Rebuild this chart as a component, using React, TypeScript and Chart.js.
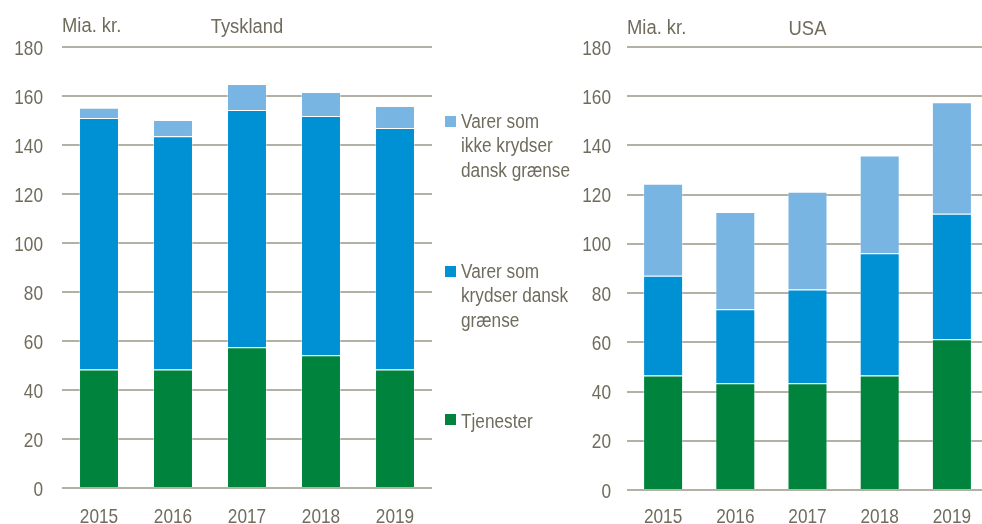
import React, { useEffect, useRef } from "react";
import { Chart, registerables } from "chart.js";

Chart.register(...registerables);

const years = ["2015", "2016", "2017", "2018", "2019"];
const yTicks = [0, 20, 40, 60, 80, 100, 120, 140, 160, 180];

const deTjenester = [48.4, 48.4, 57.4, 54.2, 48.4];
const deKrydser = [102.6, 95.2, 96.9, 97.6, 98.5];
const deIkkeKrydser = [4.2, 6.6, 10.6, 9.8, 9.0];

const usTjenester = [46.5, 43.4, 43.4, 46.5, 61.3];
const usKrydser = [40.6, 30.0, 38.1, 49.7, 50.9];
const usIkkeKrydser = [37.3, 39.6, 39.7, 39.7, 45.4];

const legendLabels = [
  "Varer som ikke krydser dansk grænse",
  "Varer som krydser dansk grænse",
  "Tjenester",
];

const GREEN = "#00843d";
const BLUE = "#0091d5";
const LIGHT = "#78b5e3";
const TEXT = "#6f6c5d";
const GRID = "#b3b0a4";
const FONT = "'Liberation Sans', Arial, sans-serif";
const SX = 0.82;
const SX_TITLE = 0.92;

type PanelProps = {
  title: string;
  tj: number[];
  kr: number[];
  ik: number[];
  left: number;
  width: number;
  axisWidth: number;
  bottom: number;
  bar: number;
  gap: number;
  titleY: number;
};

function drawScaled(ctx: CanvasRenderingContext2D, text: string, x: number, y: number, align: CanvasTextAlign, sx: number) {
  ctx.save();
  ctx.translate(x, y);
  ctx.scale(sx, 1);
  ctx.textAlign = align;
  ctx.textBaseline = "alphabetic";
  ctx.fillText(text, 0, 0);
  ctx.restore();
}

function Panel(p: PanelProps) {
  const ref = useRef<HTMLCanvasElement | null>(null);
  useEffect(() => {
    if (!ref.current) return;
    const textPlugin = {
      id: "txt",
      afterDraw(chart: any) {
        const { ctx, chartArea } = chart;
        const xs = chart.scales.x;
        const ys = chart.scales.y;
        ctx.save();
        ctx.fillStyle = TEXT;
        ctx.font = `21px ${FONT}`;
        ys.ticks.forEach((t: any) => {
          drawScaled(ctx, String(t.value), chartArea.left - p.gap, ys.getPixelForValue(t.value) + 7.5, "right", SX);
        });
        xs.ticks.forEach((t: any, i: number) => {
          drawScaled(ctx, String(xs.getLabelForValue(t.value)), xs.getPixelForTick(i), 523, "center", SX);
        });
        ctx.font = `20px ${FONT}`;
        drawScaled(ctx, "Mia. kr.", chartArea.left, p.titleY, "left", SX_TITLE);
        drawScaled(ctx, p.title, (chartArea.left + chartArea.right) / 2, p.titleY + 1, "center", SX_TITLE);
        ctx.restore();
      },
    };
    const border = "rgba(255,255,255,0.35)";
    const chart = new Chart(ref.current, {
      type: "bar",
      data: {
        labels: years,
        datasets: [
          { label: legendLabels[2], data: p.tj, backgroundColor: GREEN, borderColor: border, borderWidth: 1 },
          { label: legendLabels[1], data: p.kr, backgroundColor: BLUE, borderColor: border, borderWidth: 1 },
          { label: legendLabels[0], data: p.ik, backgroundColor: LIGHT, borderColor: border, borderWidth: 1 },
        ],
      },
      options: {
        animation: false,
        responsive: false,
        maintainAspectRatio: false,
        layout: { padding: { top: 47, right: 0, bottom: 0, left: 0 } },
        plugins: { legend: { display: false }, tooltip: { enabled: false }, title: { display: false } },
        datasets: {
          bar: { categoryPercentage: 1, barPercentage: p.bar },
        },
        scales: {
          x: {
            stacked: true,
            grid: { display: false },
            border: { display: false },
            ticks: { display: false },
            afterFit(s: any) {
              s.height = p.bottom;
            },
          },
          y: {
            stacked: true,
            min: 0,
            max: 180,
            afterBuildTicks(s: any) {
              s.ticks = yTicks.map((v) => ({ value: v }));
            },
            grid: { color: GRID, lineWidth: 2, drawTicks: false },
            border: { display: false },
            ticks: { display: false },
            afterFit(s: any) {
              s.width = p.axisWidth;
            },
          },
        },
      },
      plugins: [textPlugin],
    });
    return () => chart.destroy();
  }, []);
  return (
    <canvas
      ref={ref}
      width={p.width}
      height={524}
      style={{ position: "absolute", left: p.left, top: 0, width: p.width, height: 524 }}
    />
  );
}

function LegendItem({ color, lines, top, sqTop }: { color: string; lines: string[]; top: number; sqTop: number }) {
  return (
    <>
      <div style={{ position: "absolute", left: 445, top: sqTop, width: 11, height: 11, background: color }} />
      <div
        style={{
          position: "absolute",
          left: 461,
          top,
          whiteSpace: "nowrap",
          fontFamily: FONT,
          fontSize: 20,
          lineHeight: "24.5px",
          color: TEXT,
          transform: "scaleX(0.86)",
          transformOrigin: "0 0",
        }}
      >
        {lines.map((l, i) => (
          <div key={i}>{l}</div>
        ))}
      </div>
    </>
  );
}

export default function App() {
  return (
    <div style={{ position: "fixed", left: 0, top: 0, width: 982, height: 524, overflow: "hidden", background: "#fff" }}>
      <Panel title="Tyskland" tj={deTjenester} kr={deKrydser} ik={deIkkeKrydser} left={0} width={432} axisWidth={62} bottom={36} bar={0.54} gap={19} titleY={32} />
      <Panel title="USA" tj={usTjenester} kr={usKrydser} ik={usIkkeKrydser} left={560} width={428} axisWidth={67} bottom={34} bar={0.554} gap={16} titleY={34} />
      <LegendItem color={LIGHT} lines={["Varer som", "ikke krydser", "dansk grænse"]} top={108.5} sqTop={116} />
      <LegendItem color={BLUE} lines={["Varer som", "krydser dansk", "grænse"]} top={258.5} sqTop={266} />
      <LegendItem color={GREEN} lines={["Tjenester"]} top={408.8} sqTop={414} />
    </div>
  );
}
